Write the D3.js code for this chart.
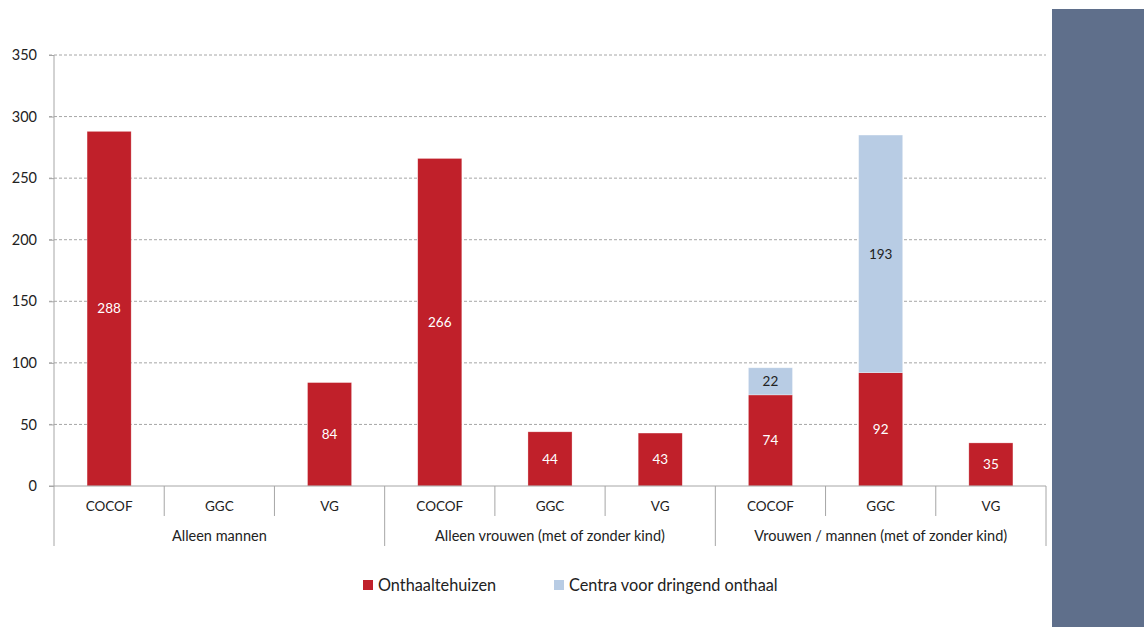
<!DOCTYPE html>
<html><head><meta charset="utf-8">
<script src="https://cdn.jsdelivr.net/npm/d3@7"></script>
<style>body{margin:0;background:#fff;} svg{display:block;font-family:Lato,"Open Sans",sans-serif;}</style>
</head><body><svg id="c" width="1144" height="627"></svg>
<script>
const groups = ["Alleen mannen", "Alleen vrouwen (met of zonder kind)", "Vrouwen / mannen (met of zonder kind)"];
const subcats = ["COCOF", "GGC", "VG"];
const onthaal = [288, 0, 84, 266, 44, 43, 74, 92, 35];
const centra = [0, 0, 0, 0, 0, 0, 22, 193, 0];
const yTicks = [0, 50, 100, 150, 200, 250, 300, 350];
const seriesNames = ["Onthaaltehuizen", "Centra voor dringend onthaal"];
const colors = ["#c0202a", "#b8cce4"];

const svg = d3.select("#c");
const L = 54, R = 1046, T = 55, B = 486;
const slots = [];
groups.forEach((g, gi) => subcats.forEach((s, si) => slots.push({key: gi + "-" + si, g, s, gi, si})));
const x = d3.scaleBand().domain(slots.map(d => d.key)).range([L, R]).paddingInner(0.6).paddingOuter(0.3);
const step = x.step();
const y = d3.scaleLinear().domain([0, 350]).range([B, T]);

// side panel
svg.append("rect").attr("x", 1052).attr("y", 9).attr("width", 92).attr("height", 618).attr("fill", "#5f6f8b");

// gridlines
svg.append("g").selectAll("line").data(yTicks.filter(t => t > 0)).join("line")
  .attr("x1", L - 5).attr("x2", R).attr("y1", d => y(d)).attr("y2", d => y(d))
  .attr("stroke", "#a6a6a6").attr("stroke-dasharray", "3,2").attr("stroke-width", 1);

// y axis
const yAxis = d3.axisLeft(y).tickValues(yTicks).tickSize(5).tickPadding(12);
const ga = svg.append("g").attr("transform", `translate(${L},0)`).call(yAxis);
ga.select(".domain").remove();
ga.selectAll(".tick line").attr("stroke", "#a6a6a6");
ga.selectAll(".tick text").attr("font-size", 14.5).attr("fill", "#222").attr("font-family", "Lato,'Open Sans',sans-serif");
svg.append("line").attr("x1", L).attr("x2", L).attr("y1", T).attr("y2", 546).attr("stroke", "#a6a6a6");

// bars
const stackData = slots.map((s, i) => ({key: s.key, a: onthaal[i], b: centra[i]}));
const stack = d3.stack().keys(["a", "b"])(stackData);
stack.forEach((layer, li) => {
  svg.append("g").selectAll("rect").data(layer.filter(d => d[1] - d[0] > 0)).join("rect")
    .attr("x", d => x(d.data.key)).attr("width", x.bandwidth())
    .attr("y", d => y(d[1])).attr("height", d => y(d[0]) - y(d[1]))
    .attr("fill", colors[li]).attr("stroke", "#fff").attr("stroke-opacity", 0.5).attr("stroke-width", 0.6);
  svg.append("g").selectAll("text").data(layer.filter(d => d[1] - d[0] > 0)).join("text")
    .attr("x", d => x(d.data.key) + x.bandwidth() / 2).attr("y", d => (y(d[0]) + y(d[1])) / 2)
    .attr("dy", "0.35em").attr("text-anchor", "middle").attr("font-size", 13.5)
    .attr("fill", li === 0 ? "#fff" : "#222").text(d => d[1] - d[0]);
});

// x axis
svg.append("line").attr("x1", L - 5).attr("x2", R).attr("y1", B).attr("y2", B).attr("stroke", "#a6a6a6");
const seps = d3.range(1, slots.length + 1);
svg.append("g").selectAll("line").data(seps).join("line")
  .attr("x1", i => L + i * step).attr("x2", i => L + i * step)
  .attr("y1", B).attr("y2", i => i % 3 === 0 ? 546 : 516).attr("stroke", "#a6a6a6");
svg.append("g").selectAll("text").data(slots).join("text")
  .attr("x", d => x(d.key) + x.bandwidth() / 2).attr("y", 506).attr("dy", "0.35em")
  .attr("text-anchor", "middle").attr("font-size", 13.5).attr("fill", "#222").text(d => d.s);
svg.append("g").selectAll("text").data(groups).join("text")
  .attr("x", (d, i) => L + (i * 3 + 1.5) * step).attr("y", 536).attr("dy", "0.35em")
  .attr("text-anchor", "middle").attr("font-size", 14.5).attr("fill", "#222").text(d => d);

// legend
const leg = [{x: 363, n: seriesNames[0], c: colors[0]}, {x: 554, n: seriesNames[1], c: colors[1]}];
const lg = svg.append("g").selectAll("g").data(leg).join("g").attr("transform", d => `translate(${d.x},580)`);
lg.append("rect").attr("width", 10).attr("height", 10).attr("fill", d => d.c);
lg.append("text").attr("x", 15).attr("y", 5).attr("dy", "0.35em").attr("font-size", 16.3).attr("fill", "#222").text(d => d.n);
</script></body></html>
